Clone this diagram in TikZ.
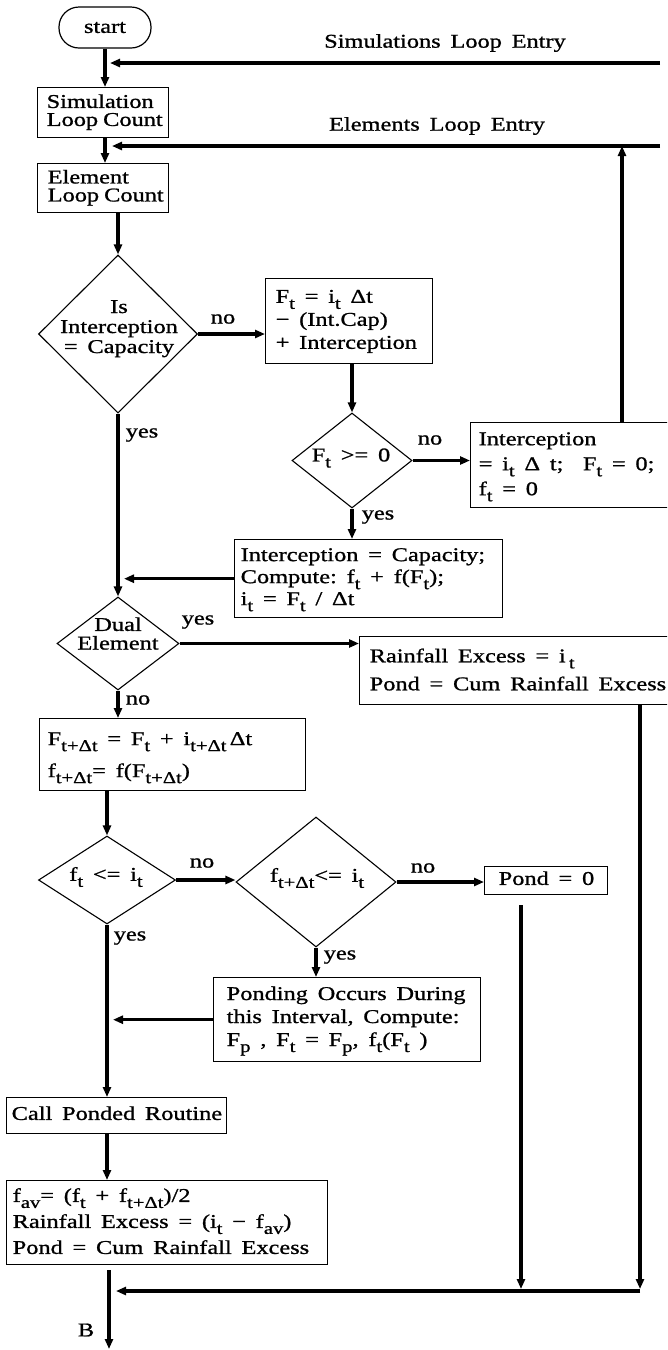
\documentclass[tikz,border=0pt]{standalone}
\usepackage{fontspec}
\setmainfont{Liberation Serif}[FakeStretch=1.25,FakeBold=1]
\usetikzlibrary{arrows.meta,shapes.geometric}
% body font with wide word spaces, given line pitch
\newcommand\bodyfont[1]{\fontsize{19.5}{#1}\selectfont\spaceskip=0.5em\relax}
% lowered subscript in text mode
\newcommand\sbs[1]{\raisebox{-6pt}{\fontsize{16.5}{16.5}\selectfont #1}}
% stacked lines, left or centred, with a given line pitch
\newcommand\rowsL[2]{\bodyfont{#1}\begin{tabular}{@{}l@{}}#2\end{tabular}}
\newcommand\rowsC[2]{\bodyfont{#1}\begin{tabular}{@{}c@{}}#2\end{tabular}}
\tikzset{
  flow/.style={line width=3.2pt,-{Triangle[length=10pt,width=8pt]}},
  term/.style={draw,line width=1.2pt,rounded corners=20pt,minimum width=92,minimum height=41,inner sep=0pt,font=\bodyfont{21}},
  box/.style={draw,line width=1.4pt,anchor=north west,inner ysep=0pt,font=\bodyfont{21}},
  dia/.style={draw,diamond,line width=1.1pt,inner sep=0pt},
  lbl/.style={inner sep=0pt,font=\bodyfont{21}},
}
\begin{document}
\begin{tikzpicture}[x=1pt,y=-1pt]
\useasboundingbox (0,0) rectangle (667,1350);
\clip (0,0) rectangle (667,1350);

% ---- process boxes and decisions ----
\node[term] (start) at (105,27.5) {start};
\node[box,text width=113,inner xsep=9,minimum height=50] (sim) at (37,87) {\rowsL{17}{Simulation\\Loop\hspace{5pt}Count}};
\node[box,text width=111,inner xsep=10,minimum height=49] (elem) at (37,163) {\rowsL{17}{Element\\Loop\hspace{5pt}Count}};

\node[dia,minimum width=159,minimum height=158] (d1) at (118,334) {};
\node[lbl] (d1t) at (119,329) {\rowsC{20}{Is\\Interception\\= Capacity}};

\node[box,text width=147,inner xsep=10,minimum height=85] (ft) at (265,278)
  {\rowsL{23}{F\sbs{t} = i\sbs{t} Δt\\− (Int.Cap)\\+ Interception}};

\node[dia,minimum width=120,minimum height=95] (d2) at (352,460.5) {};
\node[lbl] (d2t) at (351,458) {F\sbs{t} >= 0};

\node[box,text width=200,inner xsep=8,minimum height=85] (intr) at (470,422)
  {\rowsL{25}{Interception\\ = i\sbs{t} Δ t;~ F\sbs{t} = 0;\\f\sbs{t} = 0}};

\node[box,text width=256,inner xsep=6,minimum height=78] (icap) at (234,539)
  {\rowsL{22}{Interception = Capacity;\\Compute: f\sbs{t} + f(F\sbs{t});\\i\sbs{t} = F\sbs{t} / Δt}};

\node[dia,minimum width=122,minimum height=93] (d3) at (118,643.5) {};
\node[lbl] (d3t) at (118,636) {\rowsC{17}{Dual\\Element}};

\node[box,text width=300,inner xsep=10,minimum height=68] (rain) at (359,636)
  {\rowsL{28}{Rainfall Excess = i\,\sbs{t}\\ Pond = Cum Rainfall Excess}};

\node[box,text width=250,inner xsep=8,minimum height=72] (ftdt) at (39,718)
  {\rowsL{32}{F\sbs{t+Δt} = F\sbs{t} + i\sbs{t+Δt}\,Δt\\ f\sbs{t+Δt}= f(F\sbs{t+Δt})}};

\node[dia,minimum width=137,minimum height=88] (d4) at (107,880) {};
\node[lbl] (d4t) at (106,877) {f\sbs{t} <= i\sbs{t}};

\node[dia,minimum width=160,minimum height=130] (d5) at (316,882) {};
\node[lbl] (d5t) at (317,878) {f\sbs{t+Δt}<= i\sbs{t}};

\node[box,text width=95,inner xsep=14,minimum height=28] (p0) at (484,866) {\rowsL{21}{Pond = 0}};

\node[box,text width=241,inner xsep=13,minimum height=84] (pond) at (213,977)
  {\rowsL{23}{Ponding Occurs During\\this Interval, Compute:\\F\sbs{p} , F\sbs{t} = F\sbs{p}, f\sbs{t}(F\sbs{t} )}};

\node[box,text width=210,inner xsep=5,minimum height=36] (call) at (6,1097) {\rowsL{21}{Call Ponded Routine}};

\node[box,text width=309,inner xsep=6,minimum height=84] (final) at (6,1180)
  {\rowsL{26}{f\sbs{av}= (f\sbs{t} + f\sbs{t+Δt})/2\\Rainfall Excess = (i\sbs{t} − f\sbs{av})\\Pond = Cum Rainfall Excess}};

% ---- labels ----
\node[lbl] (simlbl) at (445,43) {Simulations Loop Entry};
\node[lbl] (ellbl) at (437,126) {Elements Loop Entry};
\node[lbl] (no1) at (223,319) {no};
\node[lbl] (yes1) at (142,435) {yes};
\node[lbl] (no2) at (430,440) {no};
\node[lbl] (yes2) at (378,517) {yes};
\node[lbl] (yes3) at (198,622) {yes};
\node[lbl] (no3) at (138,700) {no};
\node[lbl] (no4) at (202,863) {no};
\node[lbl] (yes4) at (130,938) {yes};
\node[lbl] (no5) at (423,868) {no};
\node[lbl] (yes5) at (340,957) {yes};
\node[lbl] (blbl) at (86,1330) {B};

% ---- loop entries ----
\coordinate (simR) at (660,63);
\coordinate (simJ) at (105,63);
\coordinate (elR) at (660,146);
\coordinate (elJ) at (105,146);
\coordinate (upX) at (622,0);
\coordinate (p0x) at (521,905);
\coordinate (rainX) at (640,0);
\coordinate (bot) at (640,1291);
\coordinate (bx) at (109,1270);
\coordinate (bEnd) at (109,1349);

% ---- connectors ----
\draw[flow] (start.south) -- (start.south |- sim.north);
\draw[flow,shorten >=5pt] (simR) -- (simJ);
\draw[flow] (sim.south -| start.south) -- (elem.north -| start.south);
\draw[flow,shorten >=7pt] (elR) -- (elJ);
\draw[flow] (d1.north |- elem.south) -- (d1.north);
\draw[flow] (d1.east) -- (d1.east -| ft.west);
\draw[flow] (d2.north |- ft.south) -- (d2.north);
\draw[flow] (d2.east) -- (d2.east -| intr.west);
\draw[flow] (intr.north -| upX) -- (elR -| upX);
\draw[flow] (d1.south) -- (d3.north);
\draw[flow] (d2.south) -- (d2.south |- icap.north);
\draw[flow,shorten >=6pt] (icap.west) -- (icap.west -| d1.south);
\draw[flow] (d3.east) -- (d3.east -| rain.west);
\draw[flow] (d3.south) -- (d3.south |- ftdt.north);
\draw[flow] (d4.north |- ftdt.south) -- (d4.north);
\draw[flow] (d4.east) -- (d4.east -| d5.west);
\draw[flow] (d5.east) -- (d5.east -| p0.west);
\draw[flow] (d5.south) -- (d5.south |- pond.north);
\draw[flow,shorten >=6pt] (pond.west) -- (pond.west -| d4.south);
\draw[flow] (d4.south) -- (d4.south |- call.north);
\draw[flow] (call.south -| d4.south) -- (final.north -| d4.south);
\draw[flow,shorten >=2pt] (p0x) -- (p0x |- bot);
\draw[flow,shorten >=2pt] (rain.south -| rainX) -- (bot);
\draw[flow,shorten >=7pt] (bot) -- (bot -| bx);
\draw[flow] (bx) -- (bEnd);
\end{tikzpicture}
\end{document}
